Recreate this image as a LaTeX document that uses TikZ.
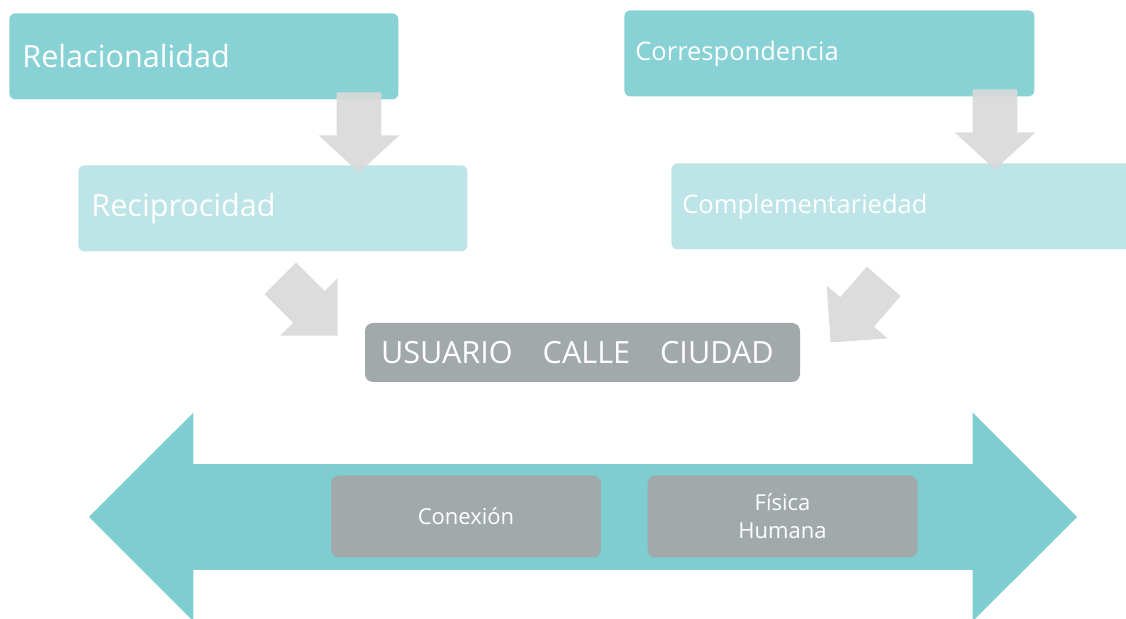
\documentclass[tikz,border=0pt]{standalone}
\usepackage{fontspec}
\setmainfont{Open Sans}
\usetikzlibrary{shapes.arrows}

\definecolor{tealdark}{HTML}{88D2D6}
\definecolor{teallight}{HTML}{BDE4E6}
\definecolor{arrowcyan}{HTML}{7ECDD1}
\definecolor{boxgray}{HTML}{A2A9AA}
\definecolor{arrowgray}{HTML}{D9D9D9}

\begin{document}
\begin{tikzpicture}[x=0.5pt,y=-0.5pt,
		box/.style={anchor=north west,inner xsep=6.5pt,inner ysep=0pt,minimum height=43pt,align=left,text=white,rounded corners=3pt},
		graybox/.style={fill=boxgray,rounded corners=4pt,text=white,align=center,inner sep=0pt},
		blockarrow/.style={single arrow,fill=arrowgray,fill opacity=.92,inner xsep=0pt,inner ysep=11pt,minimum height=40pt,single arrow head extend=9pt,single arrow tip angle=95,anchor=tail}]
		\useasboundingbox (0,0) rectangle (1126,619);

		% upper boxes
		\node[box,fill=tealdark,text width=181.5pt,font=\fontsize{15.3}{18}\selectfont] (rel) at (9,13) {Relacionalidad};
		\node[box,fill=tealdark,text width=194pt,inner xsep=5.5pt,font=\fontsize{12.75}{15}\selectfont] (cor) at (624,10) {Correspondencia};
		\node[box,fill=teallight,text width=181.5pt,font=\fontsize{15.3}{18}\selectfont] (rec) at (78,165) {Reciprocidad};
		\node[box,fill=teallight,text width=229pt,inner xsep=5.5pt,font=\fontsize{12.75}{15}\selectfont] (com) at (671,163) {Complementariedad};

		% centre box
		\node[graybox,align=left,text width=201.5pt,inner xsep=8pt,minimum height=29.5pt,font=\fontsize{15.3}{18}\selectfont] (usu) at (582.5,352.5)
			{USUARIO\hspace{15pt}CALLE\hspace{15pt}CIUDAD};

		% grey arrows
		\node[blockarrow,rotate=-90] (a1) at (359,92) {};
		\node[blockarrow,rotate=-90] (a2) at (995,89) {};
		\node[blockarrow,rotate=-45,minimum height=40.5pt,single arrow tip angle=90] (a3) at (280,278) {};
		\node[blockarrow,rotate=-131,minimum height=40.5pt,single arrow tip angle=90] (a4) at (884,281) {};

		% double arrow
		\node[double arrow,fill=arrowcyan,inner xsep=0pt,inner ysep=26.25pt,minimum height=494pt,double arrow head extend=25.75pt,double arrow tip angle=90] (axis) at (583,517) {};
		\begin{scope}[every node/.style={graybox,minimum width=135pt,minimum height=41pt,font=\fontsize{11}{14}\selectfont}]
			\node (con) at (466,516.5) {Conexión};
			\node (fis) at (782.5,516.5) {Física\\Humana};
		\end{scope}
	\end{tikzpicture}
\end{document}
